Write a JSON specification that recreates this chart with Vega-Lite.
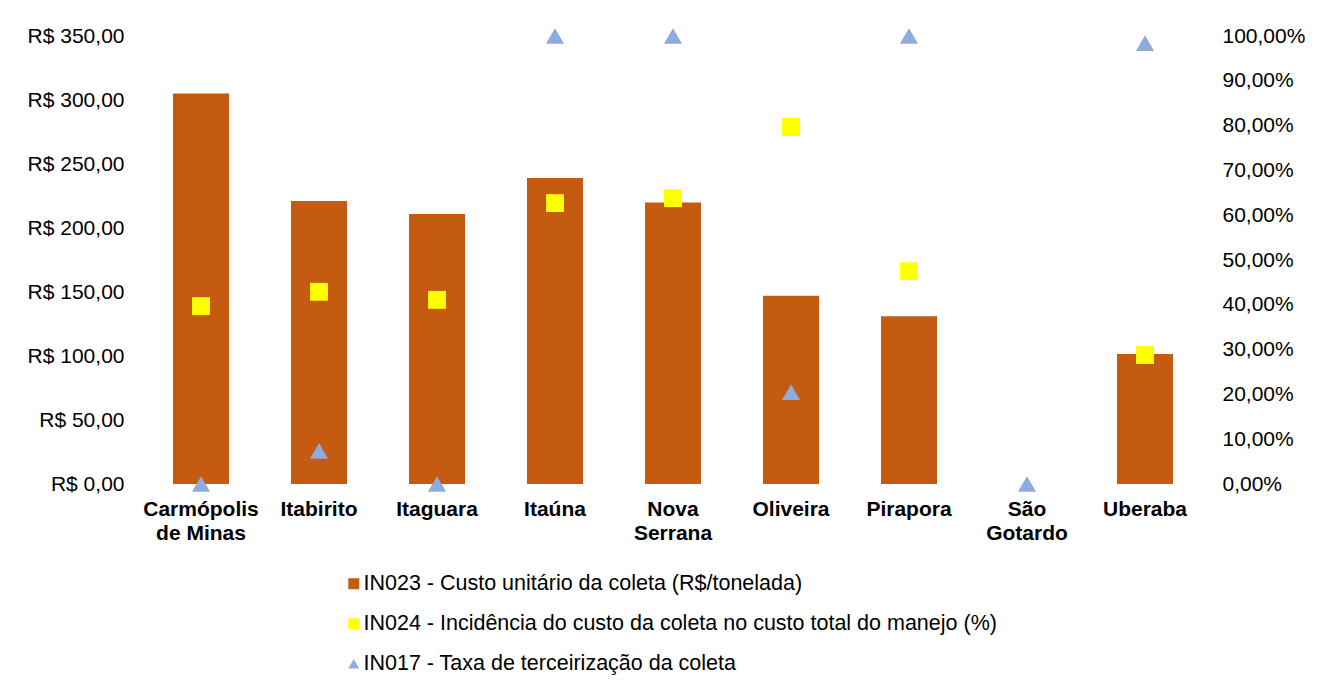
{
  "$schema": "https://vega.github.io/schema/vega-lite/v6.json",
  "width": 1062,
  "height": 448,
  "autosize": {"type": "pad"},
  "padding": {"left": 27, "top": 25, "right": 10, "bottom": 10},
  "background": "white",
  "config": {
    "font": "Liberation Sans",
    "view": {"stroke": null},
    "axis": {
      "grid": false,
      "domain": false,
      "ticks": false,
      "labelColor": "#000000",
      "labelFont": "Liberation Sans",
      "labelFontSize": 21,
      "title": null
    }
  },
  "data": {
    "values": [
      {"municipio": "Carmópolis de Minas", "in023": 305, "in024": 39.7, "in017": 0},
      {"municipio": "Itabirito", "in023": 221, "in024": 42.9, "in017": 7.4},
      {"municipio": "Itaguara", "in023": 211, "in024": 41.1, "in017": 0},
      {"municipio": "Itaúna", "in023": 239, "in024": 62.7, "in017": 100},
      {"municipio": "Nova Serrana", "in023": 220, "in024": 63.8, "in017": 100},
      {"municipio": "Oliveira", "in023": 147, "in024": 79.7, "in017": 20.5},
      {"municipio": "Pirapora", "in023": 131, "in024": 47.5, "in017": 100},
      {"municipio": "São Gotardo", "in023": null, "in024": null, "in017": 0},
      {"municipio": "Uberaba", "in023": 101.5, "in024": 28.8, "in017": 98.4}
    ]
  },
  "encoding": {
    "x": {
      "field": "municipio",
      "type": "nominal",
      "sort": ["Carmópolis de Minas", "Itabirito", "Itaguara", "Itaúna", "Nova Serrana", "Oliveira", "Pirapora", "São Gotardo", "Uberaba"],
      "scale": {"paddingInner": 0.525, "paddingOuter": 0.2625},
      "axis": {
        "labelAngle": 0,
        "labelFontWeight": "bold",
        "labelPadding": 14,
        "labelBaseline": "top",
        "labelLineHeight": 24,
        "labelExpr": "datum.value == 'Carmópolis de Minas' ? ['Carmópolis', 'de Minas'] : split(datum.value, ' ')"
      }
    }
  },
  "layer": [
    {
      "mark": {"type": "bar"},
      "encoding": {
        "y": {
          "field": "in023",
          "type": "quantitative",
          "scale": {"domain": [0, 350], "nice": false},
          "axis": {
            "orient": "left",
            "values": [0, 50, 100, 150, 200, 250, 300, 350],
            "labelPadding": 18,
            "labelExpr": "'R$ ' + replace(format(datum.value, '.2f'), '.', ',')"
          }
        },
        "color": {
          "datum": "IN023 - Custo unitário da coleta (R$/tonelada)",
          "type": "nominal",
          "scale": {
            "domain": [
              "IN023 - Custo unitário da coleta (R$/tonelada)",
              "IN024 - Incidência do custo da coleta no custo total do manejo (%)",
              "IN017 - Taxa de terceirização da coleta"
            ],
            "range": ["#C55A11", "#FFFF00", "#8FAADC"]
          },
          "legend": {
            "title": null,
            "orient": "none",
            "legendX": 201,
            "legendY": 537,
            "padding": 0,
            "direction": "vertical",
            "labelFontSize": 21.5,
            "labelFont": "Liberation Sans",
            "labelColor": "#000000",
            "labelLimit": 1000,
            "labelOffset": -1,
            "symbolSize": 120,
            "symbolStrokeWidth": 0,
            "symbolOpacity": 1,
            "rowPadding": 17,
            "encode": {
              "symbols": {
                "update": {
                  "shape": {"signal": "indexof(datum.value, 'IN017') === 0 ? 'triangle-up' : 'square'"}
                }
              }
            }
          }
        }
      }
    },
    {
      "layer": [
        {
          "mark": {"type": "point", "shape": "square", "filled": true, "size": 320, "opacity": 1},
          "encoding": {
            "y": {
              "field": "in024",
              "type": "quantitative",
              "scale": {"domain": [0, 100], "nice": false},
              "axis": {
                "orient": "right",
                "values": [0, 10, 20, 30, 40, 50, 60, 70, 80, 90, 100],
                "labelPadding": 18,
                "labelExpr": "replace(format(datum.value, '.2f'), '.', ',') + '%'"
              }
            },
            "color": {"datum": "IN024 - Incidência do custo da coleta no custo total do manejo (%)", "type": "nominal"}
          }
        },
        {
          "mark": {"type": "point", "shape": "triangle-up", "filled": true, "size": 330, "opacity": 1},
          "encoding": {
            "y": {"field": "in017", "type": "quantitative"},
            "color": {"datum": "IN017 - Taxa de terceirização da coleta", "type": "nominal"}
          }
        }
      ]
    }
  ],
  "resolve": {"scale": {"y": "independent"}}
}
